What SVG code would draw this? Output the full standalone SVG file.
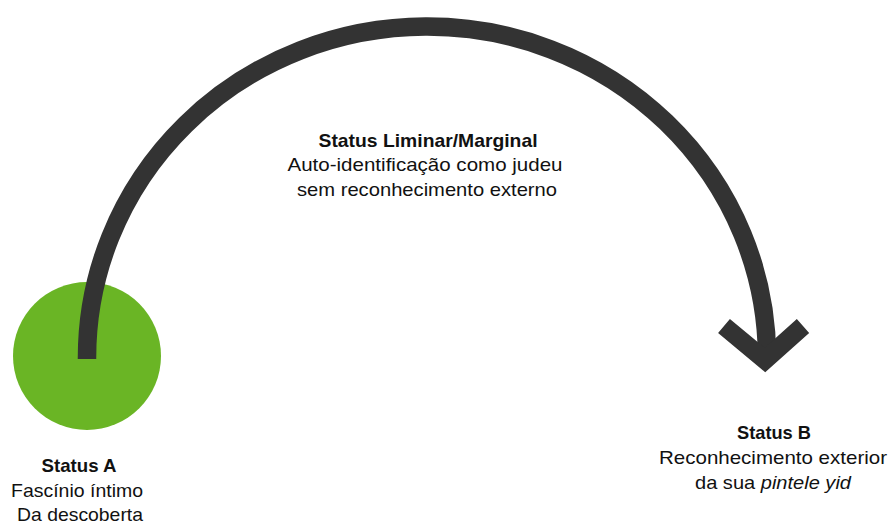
<svg xmlns="http://www.w3.org/2000/svg" width="889" height="525" viewBox="0 0 889 525">
<style>
text{font-family:"Liberation Sans",Arial,sans-serif;font-size:19px;fill:#111;text-anchor:middle}
.b{font-weight:bold}
.conn{fill:none;stroke:#333333;stroke-width:18.5}
</style>
<rect width="889" height="525" fill="#fff"/>
<g id="statusA">
<circle cx="87" cy="356" r="74" fill="#6ab525"/>
<text class="b" x="79" y="472" textLength="75" lengthAdjust="spacingAndGlyphs">Status A</text>
<text x="77" y="497" textLength="132" lengthAdjust="spacingAndGlyphs">Fascínio íntimo</text>
<text x="80" y="521" textLength="126" lengthAdjust="spacingAndGlyphs">Da descoberta</text>
</g>
<g id="connectors">
<path class="conn" d="M 87 359 A 340 331 0 0 1 767 356"/>
<polyline class="conn" points="724,326 765,360 803,326" stroke-linejoin="miter" stroke-miterlimit="10"/>
</g>
<g id="liminar">
<text class="b" x="428" y="147" textLength="219" lengthAdjust="spacingAndGlyphs">Status Liminar/Marginal</text>
<text x="425" y="171" textLength="275" lengthAdjust="spacingAndGlyphs">Auto-identificação como judeu</text>
<text x="427" y="196" textLength="260" lengthAdjust="spacingAndGlyphs">sem reconhecimento externo</text>
</g>
<g id="statusB">
<text class="b" x="774" y="439" textLength="74" lengthAdjust="spacingAndGlyphs">Status B</text>
<text x="773" y="464" textLength="228" lengthAdjust="spacingAndGlyphs">Reconhecimento exterior</text>
<text x="773" y="489" textLength="156" lengthAdjust="spacingAndGlyphs">da sua <tspan font-style="italic">pintele yid</tspan></text>
</g>
</svg>
